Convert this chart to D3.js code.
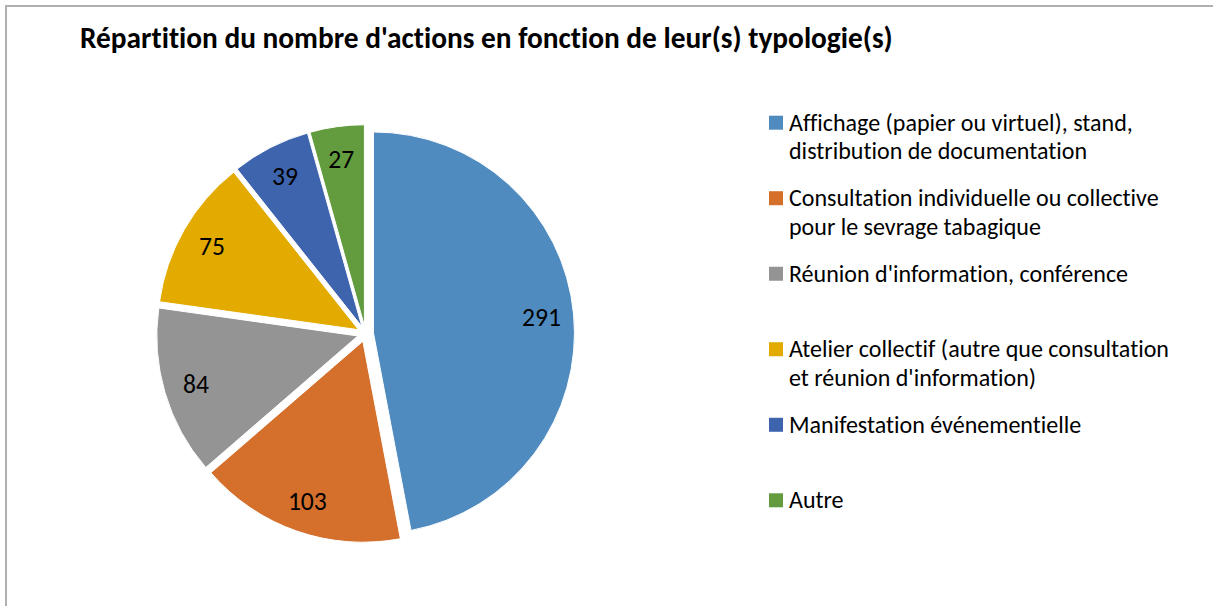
<!DOCTYPE html>
<html>
<head>
<meta charset="utf-8">
<script src="https://cdn.jsdelivr.net/npm/d3@7"></script>
<style>
  html, body { margin: 0; padding: 0; background: #fff; }
  svg { display: block; }
  text { font-variant-ligatures: none; font-feature-settings: "liga" 0, "clig" 0; }
</style>
</head>
<body>
<svg id="chart" width="1213" height="606"></svg>
<script>
const title = "Répartition du nombre d'actions en fonction de leur(s) typologie(s)";
const categories = [
  "Affichage (papier ou virtuel), stand,\ndistribution de documentation",
  "Consultation individuelle ou collective\npour le sevrage tabagique",
  "Réunion d'information, conférence",
  "Atelier collectif (autre que consultation\net réunion d'information)",
  "Manifestation événementielle",
  "Autre"
];
const values = [291, 103, 84, 75, 39, 27];
const colors = ["#508bbf", "#d4702c", "#949494", "#e3ab00", "#3e64ad", "#639c3f"];

const FONT = "'Carlito', 'Liberation Sans Narrow', 'Open Sans', sans-serif";
const svg = d3.select("#chart");

// frame
svg.append("line").attr("x1", 6).attr("y1", 6).attr("x2", 1213).attr("y2", 6)
  .attr("stroke", "#b0b0b0").attr("stroke-width", 2);
svg.append("line").attr("x1", 6).attr("y1", 5).attr("x2", 6).attr("y2", 606)
  .attr("stroke", "#b0b0b0").attr("stroke-width", 2);

function fitSize(sample, nominal, target, weight) {
  const t = svg.append("text").attr("font-family", FONT).attr("font-size", nominal)
    .attr("font-weight", weight || "normal").text(sample);
  const w = t.node().getComputedTextLength();
  t.remove();
  return nominal * target / w;
}

const titleSize = fitSize(title, 28, 813, "bold");
svg.append("text")
  .attr("x", 80).attr("y", 48)
  .attr("font-family", FONT).attr("font-weight", "bold")
  .attr("font-size", titleSize).attr("fill", "#000")
  .text(title);

// pie
const cx = 365.5, cy = 333.7, r = 201, explode = 8;
const pie = d3.pie().sort(null).value(d => d)(values);
const arc = d3.arc().innerRadius(0).outerRadius(r);
const labelArc = d3.arc().innerRadius(r * 0.84).outerRadius(r * 0.84);

const g = svg.append("g").attr("transform", `translate(${cx},${cy})`);
const slices = g.selectAll("g.slice").data(pie).join("g")
  .attr("class", "slice")
  .attr("transform", d => {
    const a = (d.startAngle + d.endAngle) / 2;
    return `translate(${explode * Math.sin(a)},${-explode * Math.cos(a)})`;
  });
slices.append("path")
  .attr("d", arc)
  .attr("fill", (d, i) => colors[i])
  .attr("stroke", "#fff").attr("stroke-width", 1);

const labelSize = fitSize("291", 24, 39);
slices.append("text")
  .attr("transform", d => `translate(${labelArc.centroid(d)})`)
  .attr("text-anchor", "middle").attr("dy", "0.35em")
  .attr("font-family", FONT).attr("font-size", labelSize).attr("fill", "#000")
  .text(d => d.data);

// legend
const legendSize = fitSize("Affichage (papier ou virtuel), stand,", 24, 344);
const legY = d3.scalePoint().domain(d3.range(categories.length)).range([130.7, 508.3]);
const leg = svg.append("g");
const items = leg.selectAll("g").data(categories).join("g")
  .attr("transform", (d, i) => `translate(0,${legY(i)})`);
items.append("rect")
  .attr("x", 769).attr("y", -15).attr("width", 14).attr("height", 14)
  .attr("fill", (d, i) => colors[i]);
items.append("text")
  .attr("x", 789).attr("y", 0)
  .attr("font-family", FONT).attr("font-size", legendSize).attr("fill", "#000")
  .selectAll("tspan").data(d => d.split("\n")).join("tspan")
  .attr("x", 789).attr("dy", (d, i) => i === 0 ? 0 : 28.7)
  .text(d => d);
</script>
</body>
</html>
